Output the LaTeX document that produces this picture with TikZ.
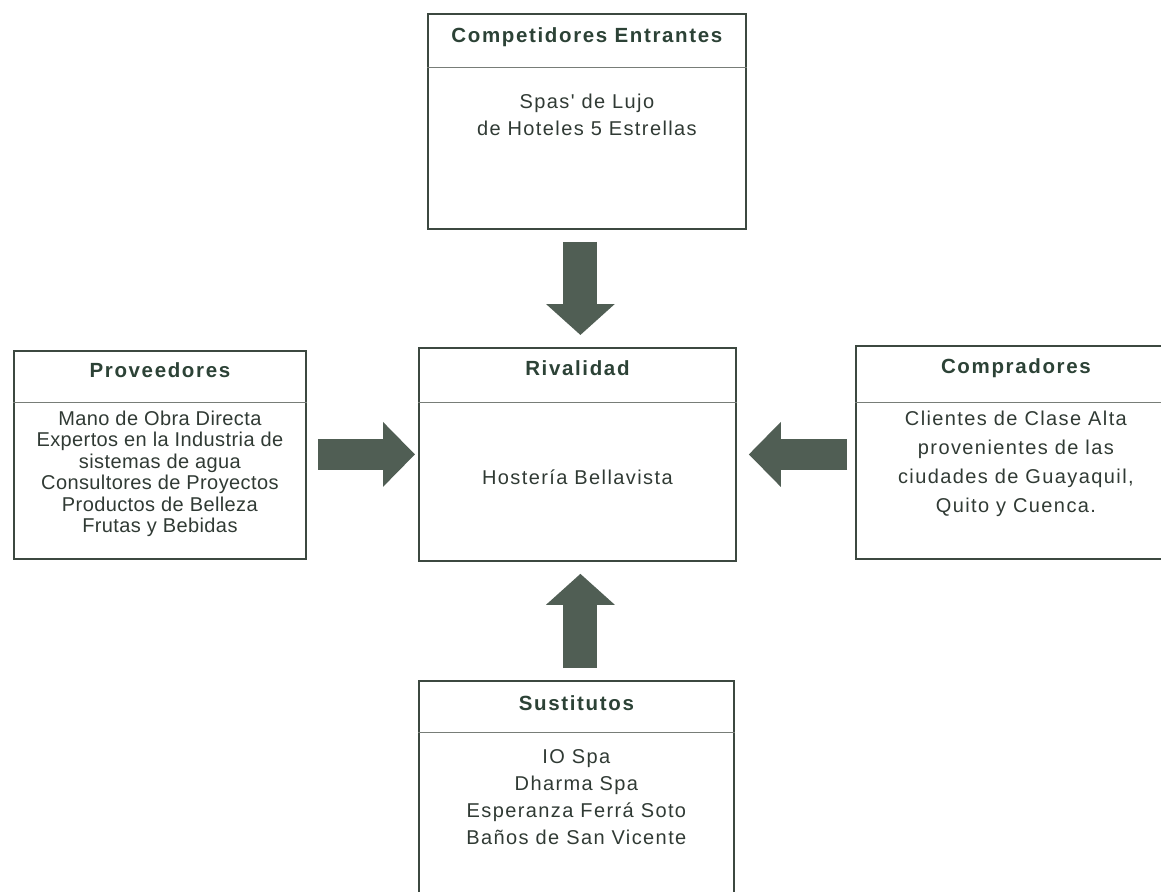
\documentclass[tikz,border=0pt]{standalone}
\usepackage{fontspec}
\setmainfont{Liberation Sans}
\newfontfamily\bodyfont[LetterSpace=7]{Liberation Sans}
\newfontfamily\headfont[LetterSpace=8]{Liberation Sans}
\newfontfamily\listfont[LetterSpace=2]{Liberation Sans}
\usetikzlibrary{arrows.meta,calc,positioning}
\definecolor{boxLine}{RGB}{60,72,64}
\definecolor{sepLine}{RGB}{120,125,120}
\definecolor{txtGray}{RGB}{48,58,52}
\definecolor{headGreen}{RGB}{44,66,54}
\definecolor{arrowFill}{RGB}{80,94,84}
\newcommand{\arrowgap}{12pt}
\tikzset{
  panel/.style={draw=boxLine,line width=1.8pt,shape=rectangle,anchor=north west,inner sep=0},
  headtxt/.style={font=\headfont\bfseries\fontsize{20.5}{24}\selectfont,text=headGreen},
  bodytxt/.style={font=\bodyfont\fontsize{20}{27}\selectfont,text=txtGray,align=center},
  listtxt/.style={font=\listfont\fontsize{20}{21.5}\selectfont,text=txtGray,align=center},
  sepline/.style={draw=sepLine,line width=0.8pt},
  fatarrow/.style={draw=arrowFill,line width=34pt,-{Triangle[length=31pt,width=67pt]}},
  sidearrow/.style={draw=arrowFill,line width=31pt,-{Triangle[length=32pt,width=63pt]}},
}
\begin{document}
\begin{tikzpicture}[x=1pt,y=-1pt]
  \useasboundingbox (0,0) rectangle (1161,891);
  \clip (0,0) rectangle (1161,891);

  \node[panel,minimum width=318pt,minimum height=215pt] (entrants) at (427,13) {};
  \node[headtxt] (entrants-h) at ($(entrants.north)+(0,24)$) {Competidores Entrantes};
  \draw[sepline] ([yshift=-54pt]entrants.north west) -- ([yshift=-54pt]entrants.north east);
  \node[bodytxt] (entrants-b) at ($(entrants.north)+(0,102)$) {Spas' de Lujo\\de Hoteles 5 Estrellas};

  \node[panel,minimum width=317pt,minimum height=213pt] (rival) at (418,347) {};
  \node[headtxt] (rival-h) at ($(rival.north)+(0,21)$) {Rivalidad};
  \draw[sepline] ([yshift=-55pt]rival.north west) -- ([yshift=-55pt]rival.north east);
  \node[bodytxt] (rival-b) at ($(rival.north)+(0,130)$) {Hostería Bellavista};

  \node[panel,minimum width=292pt,minimum height=208pt] (prov) at (13,350) {};
  \node[headtxt] (prov-h) at ($(prov.north)+(0,20)$) {Proveedores};
  \draw[sepline] ([yshift=-52pt]prov.north west) -- ([yshift=-52pt]prov.north east);
  \node[listtxt] (prov-b) at ($(prov.north)+(0,124)$) {Mano de Obra Directa\\Expertos en la Industria de\\sistemas de agua\\Consultores de Proyectos\\Productos de Belleza\\Frutas y Bebidas};

  \node[panel,minimum width=320pt,minimum height=213pt] (comp) at (855,345) {};
  \node[headtxt] (comp-h) at ($(comp.north)+(0,23)$) {Compradores};
  \draw[sepline] ([yshift=-57pt]comp.north west) -- ([yshift=-57pt]comp.north east);
  \node[bodytxt,font=\bodyfont\fontsize{20}{29}\selectfont] (comp-b) at ($(comp.north)+(0,119)$) {Clientes de Clase Alta\\provenientes de las\\ciudades de Guayaquil,\\Quito y Cuenca.};

  \node[panel,minimum width=315pt,minimum height=225pt] (sust) at (418,680) {};
  \node[headtxt] (sust-h) at ($(sust.north)+(0,23)$) {Sustitutos};
  \draw[sepline] ([yshift=-52pt]sust.north west) -- ([yshift=-52pt]sust.north east);
  \node[bodytxt] (sust-b) at ($(sust.north)+(0,117)$) {IO Spa\\Dharma Spa\\Esperanza Ferrá Soto\\Baños de San Vicente};

  \coordinate (dn-top) at ($(entrants.south -| rival.north)+(3,0)$);
  \coordinate (dn-end) at ($(rival.north)+(3,0)$);
  \coordinate (up-start) at ($(sust.north)+(4,0)$);
  \coordinate (up-end) at ($(rival.south)+(3,0)$);
  \coordinate (lt-start) at (prov.east |- rival.west);
  \coordinate (rt-start) at (comp.west |- rival.east);
  \draw[fatarrow] ([yshift=-\arrowgap]dn-top) -- ([yshift=\arrowgap]dn-end);
  \draw[fatarrow] ([yshift=\arrowgap]up-start) -- ([yshift=-\arrowgap]up-end);
  \draw[sidearrow] ([xshift=11pt]lt-start) -- ([xshift=-3pt]rival.west);
  \draw[sidearrow] ([xshift=-8pt]rt-start) -- ([xshift=\arrowgap]rival.east);
\end{tikzpicture}
\end{document}
